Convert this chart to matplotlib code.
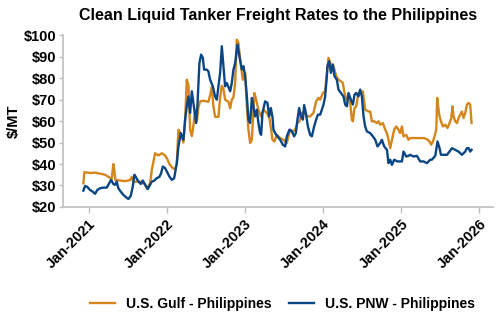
import numpy as np
import matplotlib
matplotlib.use("Agg")
import matplotlib.pyplot as plt
from matplotlib.ticker import FuncFormatter

plt.rcParams['font.family'] = ['Liberation Sans', 'DejaVu Sans']

# time as decimal years, values in $/MT
gulf_t = [2020.931, 2020.944, 2021.017, 2021.081, 2021.145, 2021.209, 2021.251, 2021.295, 2021.315, 2021.328,
          2021.341, 2021.401, 2021.465, 2021.529, 2021.551, 2021.572, 2021.636, 2021.679, 2021.722, 2021.744,
          2021.786, 2021.808, 2021.850, 2021.892, 2021.936, 2021.978, 2022.008, 2022.033, 2022.064, 2022.106,
          2022.128, 2022.149, 2022.179, 2022.213, 2022.235, 2022.256, 2022.277, 2022.299, 2022.321, 2022.341,
          2022.363, 2022.385, 2022.405, 2022.427, 2022.469, 2022.533, 2022.555, 2022.577, 2022.597, 2022.619,
          2022.662, 2022.683, 2022.705, 2022.726, 2022.747, 2022.790, 2022.812, 2022.833, 2022.854, 2022.876,
          2022.897, 2022.918, 2022.940, 2022.974, 2023.004, 2023.026, 2023.046, 2023.068, 2023.090, 2023.110,
          2023.123, 2023.145, 2023.174, 2023.205, 2023.238, 2023.282, 2023.315, 2023.337, 2023.354, 2023.379,
          2023.410, 2023.453, 2023.495, 2023.538, 2023.559, 2023.581, 2023.615, 2023.645, 2023.674, 2023.700,
          2023.731, 2023.760, 2023.795, 2023.837, 2023.879, 2023.914, 2023.944, 2023.965, 2024.000, 2024.029,
          2024.051, 2024.072, 2024.103, 2024.136, 2024.171, 2024.200, 2024.231, 2024.256, 2024.273, 2024.299,
          2024.328, 2024.350, 2024.372, 2024.385, 2024.405, 2024.427, 2024.456, 2024.487, 2024.513, 2024.542,
          2024.585, 2024.606, 2024.628, 2024.658, 2024.692, 2024.713, 2024.735, 2024.769, 2024.799, 2024.821,
          2024.841, 2024.863, 2024.885, 2024.914, 2024.940, 2024.969, 2024.991, 2025.013, 2025.033, 2025.068,
          2025.097, 2025.118, 2025.162, 2025.226, 2025.290, 2025.333, 2025.367, 2025.388, 2025.410, 2025.431,
          2025.453, 2025.465, 2025.482, 2025.495, 2025.513, 2025.538, 2025.568, 2025.597, 2025.623, 2025.645,
          2025.662, 2025.674, 2025.696, 2025.718, 2025.738, 2025.760, 2025.782, 2025.803, 2025.824, 2025.846,
          2025.867, 2025.888, 2025.905]
gulf_v = [31.0, 36.2, 35.8, 36.0, 35.5, 35.0, 34.0, 33.0, 40.0, 37.0,
          32.6, 32.3, 32.0, 32.5, 34.0, 31.5, 32.0, 31.5, 30.5, 28.7,
          31.0, 37.3, 45.0, 44.0, 45.0, 44.0, 42.2, 40.0, 38.5, 37.5,
          40.0, 56.0, 54.0, 50.0, 60.6, 79.3, 77.0, 56.0, 53.0, 58.0,
          65.0, 60.0, 66.5, 69.2, 69.5, 69.0, 72.0, 76.0, 67.0, 62.0,
          62.0, 71.0, 76.5, 75.0, 70.0, 69.0, 66.0, 70.0, 71.0, 77.9,
          98.0, 96.5, 88.7, 79.3, 82.5, 66.9, 56.0, 49.8, 51.3, 65.3,
          73.1, 70.0, 65.3, 62.2, 65.3, 63.8, 61.4, 56.0, 51.3, 50.5,
          53.6, 52.1, 51.3, 49.8, 52.9, 56.0, 55.2, 56.0, 59.1, 59.9,
          63.8, 64.5, 62.2, 62.2, 63.8, 69.2, 70.8, 70.0, 73.1, 73.9,
          82.5, 89.5, 86.4, 85.6, 80.9, 79.3, 78.6, 77.8, 73.9, 70.0,
          71.5, 68.5, 60.7, 59.9, 66.1, 66.9, 73.1, 73.1, 73.9, 65.3,
          64.5, 64.5, 59.9, 59.9, 59.1, 59.9, 58.3, 59.1, 56.0, 54.4,
          51.3, 47.4, 51.3, 56.0, 57.5, 56.0, 54.4, 57.5, 52.9, 53.6,
          51.3, 52.1, 52.1, 52.1, 52.1, 51.6, 50.5, 49.0, 50.5, 52.9,
          56.0, 70.8, 65.3, 62.2, 59.9, 57.5, 58.3, 56.8, 59.1, 61.4,
          66.9, 62.2, 59.9, 59.1, 61.4, 63.0, 64.5, 61.4, 63.8, 67.7,
          68.5, 67.7, 59.1]

pnw_t = [2020.931, 2020.953, 2020.982, 2021.017, 2021.051, 2021.081, 2021.110, 2021.145, 2021.187, 2021.231,
         2021.264, 2021.286, 2021.315, 2021.337, 2021.359, 2021.379, 2021.410, 2021.444, 2021.478, 2021.508,
         2021.538, 2021.564, 2021.585, 2021.606, 2021.636, 2021.667, 2021.692, 2021.722, 2021.756, 2021.786,
         2021.808, 2021.837, 2021.872, 2021.905, 2021.927, 2021.949, 2021.978, 2022.008, 2022.033, 2022.064,
         2022.094, 2022.128, 2022.149, 2022.179, 2022.213, 2022.235, 2022.256, 2022.277, 2022.299, 2022.321,
         2022.341, 2022.376, 2022.392, 2022.418, 2022.440, 2022.462, 2022.478, 2022.513, 2022.533, 2022.555,
         2022.590, 2022.619, 2022.641, 2022.662, 2022.683, 2022.705, 2022.726, 2022.747, 2022.769, 2022.812,
         2022.833, 2022.854, 2022.876, 2022.905, 2022.931, 2022.962, 2022.982, 2023.004, 2023.026, 2023.046,
         2023.068, 2023.090, 2023.110, 2023.131, 2023.154, 2023.174, 2023.196, 2023.209, 2023.226, 2023.260,
         2023.290, 2023.312, 2023.333, 2023.354, 2023.367, 2023.388, 2023.418, 2023.453, 2023.487, 2023.517,
         2023.538, 2023.572, 2023.603, 2023.632, 2023.654, 2023.674, 2023.696, 2023.718, 2023.744, 2023.760,
         2023.782, 2023.808, 2023.837, 2023.859, 2023.888, 2023.914, 2023.936, 2023.965, 2023.987, 2024.008,
         2024.029, 2024.051, 2024.059, 2024.081, 2024.103, 2024.128, 2024.149, 2024.179, 2024.200, 2024.231,
         2024.264, 2024.286, 2024.308, 2024.328, 2024.359, 2024.385, 2024.405, 2024.427, 2024.456, 2024.478,
         2024.500, 2024.521, 2024.542, 2024.564, 2024.606, 2024.641, 2024.671, 2024.700, 2024.735, 2024.756,
         2024.786, 2024.821, 2024.841, 2024.863, 2024.885, 2024.914, 2024.956, 2025.013, 2025.033, 2025.068,
         2025.097, 2025.119, 2025.162, 2025.205, 2025.247, 2025.290, 2025.333, 2025.376, 2025.397, 2025.440,
         2025.469, 2025.495, 2025.513, 2025.546, 2025.590, 2025.623, 2025.654, 2025.696, 2025.738, 2025.782,
         2025.824, 2025.846, 2025.867, 2025.888, 2025.905]
pnw_v = [27.6, 29.8, 29.3, 27.9, 27.1, 26.1, 27.9, 28.7, 29.0, 29.0,
         31.1, 32.6, 30.7, 30.3, 31.8, 28.7, 27.1, 25.6, 24.5, 23.7,
         25.1, 29.5, 35.0, 33.8, 31.8, 30.7, 32.3, 30.3, 28.3, 30.3,
         31.8, 32.2, 33.4, 34.0, 35.7, 38.8, 38.1, 36.0, 34.2, 32.6,
         33.3, 40.4, 48.2, 54.4, 51.3, 60.7, 66.9, 71.5, 63.8, 73.9,
         68.5, 59.1, 66.9, 87.1, 91.0, 89.5, 84.0, 84.0, 83.2, 79.3,
         76.2, 71.5, 70.0, 76.2, 82.5, 94.9, 85.6, 76.2, 77.8, 73.9,
         77.8, 84.0, 87.1, 95.7, 90.2, 84.0, 85.6, 80.9, 71.5, 60.7,
         59.1, 70.8, 66.9, 62.2, 65.3, 59.1, 54.4, 53.6, 63.8, 69.2,
         68.5, 62.2, 66.1, 62.0, 56.0, 54.4, 52.9, 51.3, 49.0, 48.2,
         52.9, 56.0, 55.2, 52.9, 54.4, 60.7, 66.1, 62.2, 60.7, 67.5,
         63.8, 57.5, 53.6, 52.9, 57.5, 60.7, 63.0, 63.0, 65.3, 67.7,
         71.5, 80.9, 85.6, 87.9, 82.5, 86.4, 80.9, 79.3, 74.7, 73.1,
         71.5, 67.7, 66.9, 73.1, 70.0, 67.7, 72.3, 73.1, 71.5, 74.7,
         71.5, 62.2, 57.5, 55.2, 54.4, 52.9, 51.3, 48.2, 49.8, 51.3,
         48.2, 46.6, 40.4, 42.0, 39.6, 42.0, 41.2, 41.2, 45.8, 43.5,
         43.8, 44.3, 43.5, 43.8, 41.2, 41.2, 40.4, 42.0, 42.0, 43.8,
         50.5, 47.4, 44.3, 44.3, 44.3, 45.8, 47.4, 46.6, 45.8, 44.3,
         45.8, 47.4, 47.4, 45.8, 46.6]

years = [2021, 2022, 2023, 2024, 2025, 2026]
year_labels = ['Jan-%d' % y for y in years]

orange = '#D4861C'
blue = '#0B4684'

fig = plt.figure(figsize=(5, 3.3), dpi=100)
ax = fig.add_axes([0.126, 0.373, 0.86, 0.52])

ax.plot(gulf_t, gulf_v, color=orange, lw=1.7, label='U.S. Gulf - Philippines')
ax.plot(pnw_t, pnw_v, color=blue, lw=1.7, label='U.S. PNW - Philippines')

ax.set_ylim(20, 100)
ax.set_yticks(np.arange(20, 101, 10))
ax.yaxis.set_major_formatter(FuncFormatter(lambda v, p: '$%d' % v))
ax.set_xlim(2020.67, 2026.18)
ax.set_xticks(years)
ax.set_xticklabels(year_labels, rotation=45, ha='right', rotation_mode='anchor')

for s in ['top', 'right']:
    ax.spines[s].set_visible(False)
for s in ['left', 'bottom']:
    ax.spines[s].set_color('#BFBFBF')
    ax.spines[s].set_linewidth(1.2)
ax.tick_params(axis='both', colors='#BFBFBF', labelcolor='black', labelsize=10.5, width=1)
ax.tick_params(axis='y', length=3, pad=2)
ax.tick_params(axis='x', length=4, pad=3)
for lab in ax.get_xticklabels() + ax.get_yticklabels():
    lab.set_fontweight('bold')

ax.set_ylabel('$/MT', fontsize=10.5, fontweight='bold')
ax.yaxis.set_label_coords(-0.098, 0.5)
ax.set_title('Clean Liquid Tanker Freight Rates to the Philippines', fontsize=11.5, fontweight='bold', pad=11)

leg = fig.legend(loc='center', bbox_to_anchor=(0.565, 0.08), ncol=2, frameon=False,
                 prop={'weight': 'bold', 'size': 10}, handlelength=1.8, columnspacing=1.2)

fig.savefig('out.png', dpi=100)
